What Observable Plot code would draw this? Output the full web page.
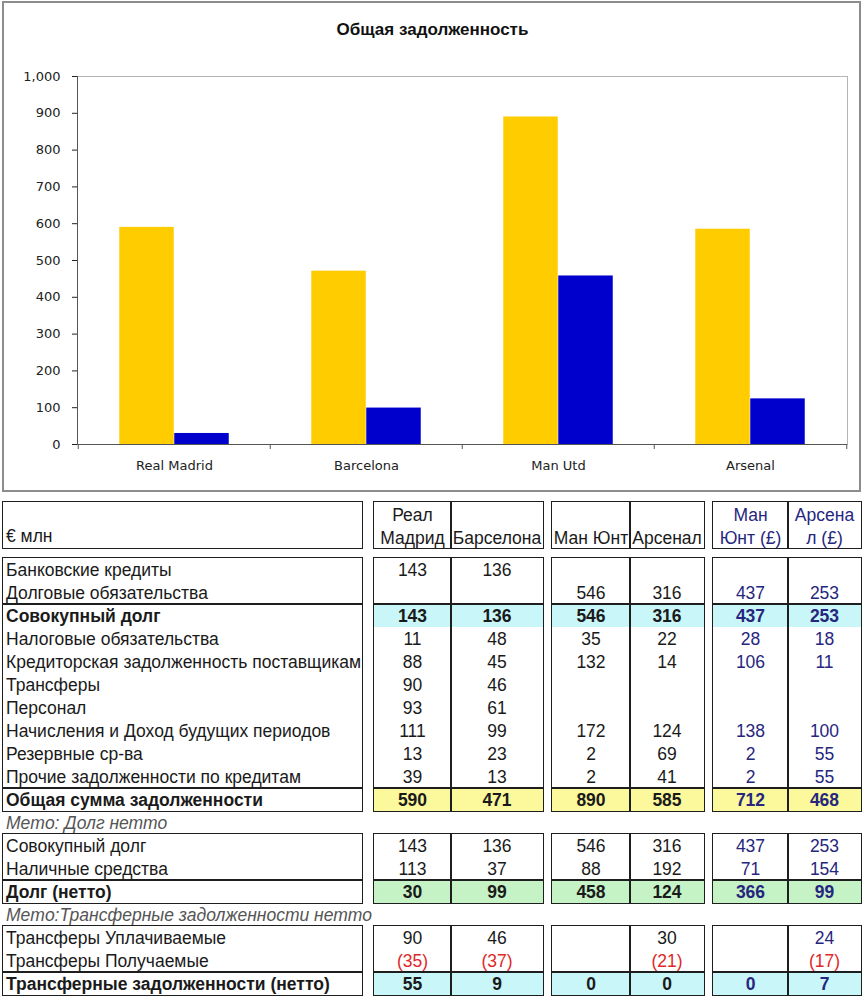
<!DOCTYPE html>
<html><head><meta charset="utf-8">
<script src="https://cdn.jsdelivr.net/npm/d3@7"></script>
<script src="https://cdn.jsdelivr.net/npm/@observablehq/plot@0.6"></script>
<style>
body{margin:0;background:#fff;}
#root{position:relative;width:865px;height:1000px;overflow:hidden;font-family:"Liberation Sans",Arial,sans-serif;}
.a{position:absolute;box-sizing:border-box;white-space:nowrap;}
</style></head><body><div id="root"></div>
<script>
// ---------- chart data ----------
const chartTitle = "Общая задолженность";
const clubs = ["Real Madrid", "Barcelona", "Man Utd", "Arsenal"];
const totalDebt = [590, 471, 890, 585];
const netDebt = [30, 99, 458, 124];
const yTicks = [0, 100, 200, 300, 400, 500, 600, 700, 800, 900, 1000];

// ---------- table data ----------
const unitLabel = "€ млн";
const columnHeaders = [["Реал", "Мадрид"], ["", "Барселона"], ["", "Ман Юнт"], ["", "Арсенал"], ["Ман", "Юнт (£)"], ["Арсена", "л (£)"]];

const debtLabels = ["Банковские кредиты", "Долговые обязательства", "Совокупный долг", "Налоговые обязательства",
  "Кредиторская задолженность поставщикам", "Трансферы", "Персонал", "Начисления и Доход будущих периодов",
  "Резервные ср-ва", "Прочие задолженности по кредитам", "Общая сумма задолженности"];
const debtRealMadrid = [143, null, 143, 11, 88, 90, 93, 111, 13, 39, 590];
const debtBarcelona  = [136, null, 136, 48, 45, 46, 61, 99, 23, 13, 471];
const debtManUtd     = [null, 546, 546, 35, 132, null, null, 172, 2, 2, 890];
const debtArsenal    = [null, 316, 316, 22, 14, null, null, 124, 69, 41, 585];
const debtManUtdGBP  = [null, 437, 437, 28, 106, null, null, 138, 2, 2, 712];
const debtArsenalGBP = [null, 253, 253, 18, 11, null, null, 100, 55, 55, 468];

const memoNetDebt = "Memo: Долг нетто";
const netLabels = ["Совокупный долг", "Наличные средства", "Долг (нетто)"];
const netRealMadrid = [143, 113, 30];
const netBarcelona  = [136, 37, 99];
const netManUtd     = [546, 88, 458];
const netArsenal    = [316, 192, 124];
const netManUtdGBP  = [437, 71, 366];
const netArsenalGBP = [253, 154, 99];

const memoTransfers = "Memo:Трансферные задолженности нетто";
const trLabels = ["Трансферы Уплачиваемые", "Трансферы Получаемые", "Трансферные задолженности (нетто)"];
const trRealMadrid = [90, -35, 55];
const trBarcelona  = [46, -37, 9];
const trManUtd     = [null, null, 0];
const trArsenal    = [30, -21, 0];
const trManUtdGBP  = [null, null, 0];
const trArsenalGBP = [24, -17, 7];

// ---------- helpers ----------
const root = document.getElementById("root");
function el(style, text) {
  const d = document.createElement("div");
  d.className = "a";
  for (const k in style) d.style[k] = style[k];
  if (text != null) d.textContent = text;
  root.appendChild(d);
  return d;
}
const px = v => v + "px";

// ---------- chart ----------
el({left: px(2), top: px(1), width: px(859), height: px(491), border: "2px solid #8d8d8d"});
el({left: "0px", top: px(20), width: px(865), textAlign: "center", font: "bold 17px 'Liberation Sans', Arial", color: "#111"}, chartTitle);

const W = 865, H = 490, ml = 77, mr = 18, mt = 76, mb = 46;
const bw = (W - ml - mr) / clubs.length;
const barW = bw * 0.2857;
const gap = (bw - 2 * barW) / 2;

const chart = Plot.plot({
  width: W, height: H,
  marginLeft: ml, marginRight: mr, marginTop: mt, marginBottom: mb,
  style: {fontFamily: "'DejaVu Sans', Verdana, sans-serif", fontSize: "13px", color: "#222", background: "transparent", overflow: "visible"},
  x: {domain: clubs, padding: 0, label: null},
  y: {domain: [0, 1000], label: null},
  marks: [
    Plot.frame({stroke: "#b5b5b5"}),
    Plot.barY(totalDebt, {x: clubs, y: totalDebt, fill: "#FFCC00", insetLeft: gap, insetRight: gap + barW}),
    Plot.barY(netDebt, {x: clubs, y: netDebt, fill: "#0000CC", insetLeft: gap + barW, insetRight: gap}),
    Plot.ruleY([0], {stroke: "#555"}),
    Plot.frame({anchor: "left", stroke: "#555"}),
    Plot.ruleX(clubs, {x: d => d, dx: -bw / 2, insetTop: H - mt - mb, insetBottom: -5, stroke: "#555"}),
    Plot.ruleX(clubs.slice(-1), {x: d => d, dx: bw / 2, insetTop: H - mt - mb, insetBottom: -5, stroke: "#555"}),
    Plot.axisY({ticks: yTicks, tickFormat: d3.format(","), tickSize: 5, tickPadding: 12, label: null, fontSize: 13}),
    Plot.axisX({tickSize: 0, tickPadding: 16, label: null, fontSize: 13})
  ]
});
chart.style.position = "absolute";
chart.style.left = "0px";
chart.style.top = "0px";
root.appendChild(chart);

// ---------- table ----------
const FS = 17.5;
const ROW = 23;
const TY = 2; // text baseline nudge
const LBL = [3, 362];
const cols = [[374, 451], [451, 543], [552, 630], [630, 704], [713, 788], [788, 861]];
const groups = [[374, 543], [552, 704], [713, 861]];
const LINE = "#1e1e1e";
const DARK = "#1a1a1a", NAVY = "#26267e", RED = "#e02828";

function box(x1, y1, x2, y2) {
  el({left: px(x1 - 0.75), top: px(y1 - 0.75), width: px(x2 - x1 + 1.5), height: px(y2 - y1 + 1.5), border: "1.5px solid " + LINE});
}
function hline(x1, x2, y) { el({left: px(x1), top: px(y - 0.75), width: px(x2 - x1), height: "1.5px", background: LINE}); }
function vline(x, y1, y2) { el({left: px(x - 0.75), top: px(y1), width: "1.5px", height: px(y2 - y1), background: LINE}); }
function frameRows(top, bottom, rules) {
  box(LBL[0], top, LBL[1], bottom);
  groups.forEach(g => box(g[0], top, g[1], bottom));
  rules.forEach(y => { hline(LBL[0], LBL[1], y); groups.forEach(g => hline(g[0], g[1], y)); });
  [cols[0][1], cols[2][1], cols[4][1]].forEach(x => vline(x, top, bottom));
}

function block(top, labels, series, boldRows, fills, ruleRows) {
  const n = labels.length, bottom = top + n * ROW;
  for (const r in fills) cols.forEach(c => el({left: px(c[0]), top: px(top + r * ROW), width: px(c[1] - c[0]), height: px(ROW), background: fills[r]}));
  labels.forEach((t, r) => el({left: px(LBL[0] + 3), top: px(top + r * ROW + TY), height: px(ROW), lineHeight: px(ROW),
    font: (boldRows.includes(r) ? "bold " : "") + FS + "px 'Liberation Sans', Arial", color: DARK}, t));
  series.forEach((vals, ci) => vals.forEach((v, r) => {
    if (v == null) return;
    const c = cols[ci];
    el({left: px(c[0]), top: px(top + r * ROW + TY), width: px(c[1] - c[0]), height: px(ROW), lineHeight: px(ROW), textAlign: "center",
      font: (boldRows.includes(r) ? "bold " : "") + FS + "px 'Liberation Sans', Arial",
      color: v < 0 ? RED : (ci >= 4 ? NAVY : DARK)}, v < 0 ? "(" + (-v) + ")" : String(v));
  }));
  frameRows(top, bottom, ruleRows.map(r => top + r * ROW));
  return bottom;
}

// header
const HT = 502, HB = 548;
frameRows(HT, HB, []);
el({left: px(LBL[0] + 3), top: px(HB - ROW + 1), height: px(ROW), lineHeight: px(ROW), font: FS + "px 'Liberation Sans', Arial", color: DARK}, unitLabel);
columnHeaders.forEach((h, ci) => {
  const c = cols[ci];
  h.forEach((t, li) => {
    if (!t) return;
    el({left: px(c[0]), top: px(HT + li * ROW + 2.5), width: px(c[1] - c[0]), height: px(ROW), lineHeight: px(ROW), textAlign: "center",
      font: FS + "px 'Liberation Sans', Arial", color: ci >= 4 ? NAVY : DARK}, t);
  });
});

const CYAN = "#c9f6f8", YELLOW = "#fbf99c", GREEN = "#c6f3c6";
let y = 558;
y = block(y, debtLabels, [debtRealMadrid, debtBarcelona, debtManUtd, debtArsenal, debtManUtdGBP, debtArsenalGBP],
  [2, 10], {2: CYAN, 10: YELLOW}, [2, 10]);
el({left: px(LBL[0] + 3), top: px(y + TY), height: px(ROW), lineHeight: px(ROW), font: "italic " + FS + "px 'Liberation Sans', Arial", color: "#555"}, memoNetDebt);
y += ROW;
y = block(y, netLabels, [netRealMadrid, netBarcelona, netManUtd, netArsenal, netManUtdGBP, netArsenalGBP],
  [2], {2: GREEN}, [2]);
el({left: px(LBL[0] + 3), top: px(y + TY), height: px(ROW), lineHeight: px(ROW), font: "italic " + FS + "px 'Liberation Sans', Arial", color: "#555"}, memoTransfers);
y += ROW;
y = block(y, trLabels, [trRealMadrid, trBarcelona, trManUtd, trArsenal, trManUtdGBP, trArsenalGBP],
  [2], {2: CYAN}, [2]);
</script></body></html>
